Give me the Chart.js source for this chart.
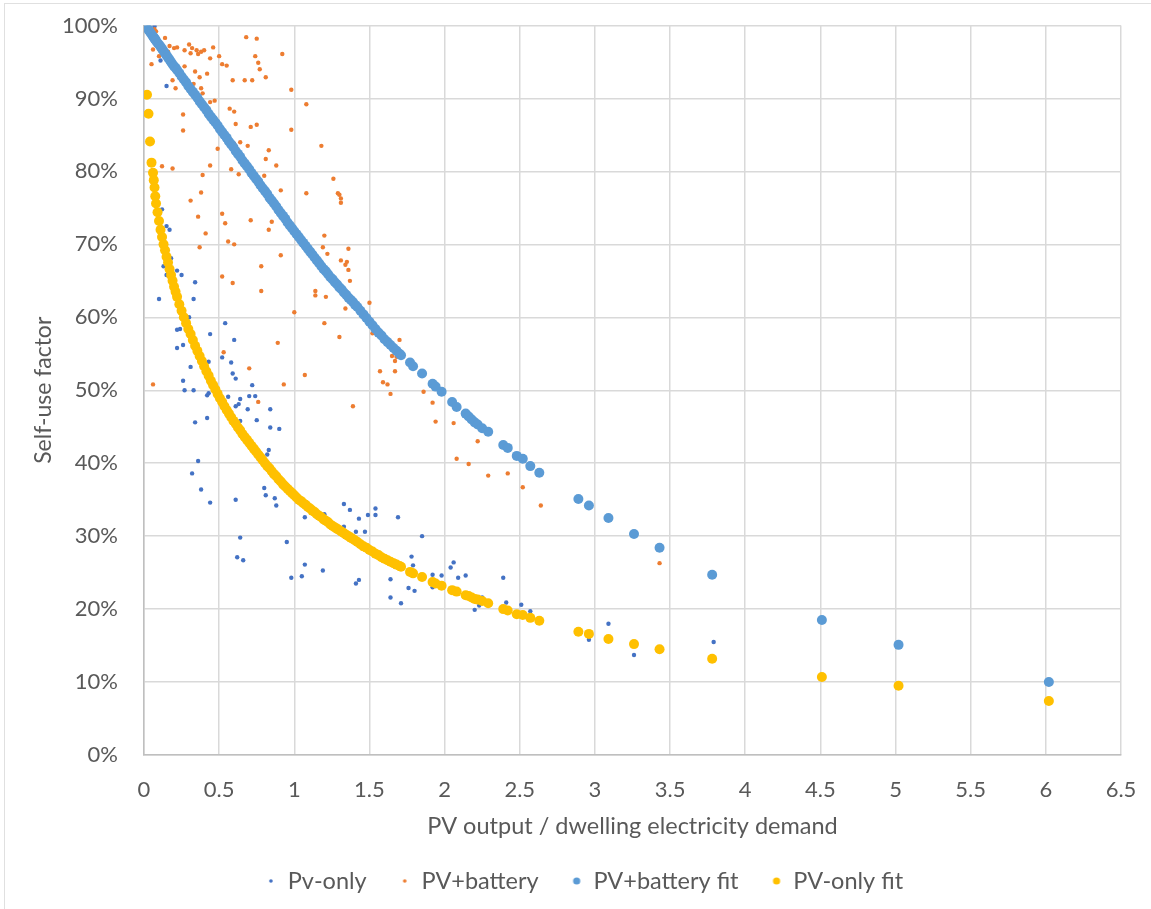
<!DOCTYPE html>
<html>
<head>
<meta charset="utf-8">
<title>Self-use factor</title>
<script src="https://cdn.jsdelivr.net/npm/chart.js@4.4.0/dist/chart.umd.min.js"></script>
<style>
  body { margin: 0; background: #ffffff; }
  #wrap { position: relative; width: 1151px; height: 909px; }
  #frame-left { position: absolute; left: 4px; top: 3px; width: 1px; height: 906px; background: #e0e0e0; }
  #frame-top { position: absolute; left: 4px; top: 3px; width: 1147px; height: 1px; background: #e0e0e0; }
  canvas { position: absolute; left: 0; top: 0; }
</style>
</head>
<body>
<div id="wrap">
  <canvas id="chart" width="1151" height="909"></canvas>
  <div id="frame-left"></div>
  <div id="frame-top"></div>
</div>
<script>
// x ticks: 0 .. 6.5 step 0.5, y ticks: 0% .. 100% step 10%
const xTicks = [0, 0.5, 1, 1.5, 2, 2.5, 3, 3.5, 4, 4.5, 5, 5.5, 6, 6.5];
const yTicks = [0, 10, 20, 30, 40, 50, 60, 70, 80, 90, 100];

const seriesNames = ["Pv-only", "PV+battery", "PV+battery fit", "PV-only fit"];

// Pv-only measured points (x = PV output / demand, y = self-use %)
const pvOnlyX = [
  0.07, 0.11, 0.15, 0.12, 0.15, 0.17, 0.18, 0.13, 0.15, 0.22, 0.25, 0.34, 0.10, 0.33, 0.30,
  0.22, 0.24, 0.54, 0.44, 0.60, 0.22, 0.26, 0.52, 0.43, 0.58, 0.31, 0.59, 0.61, 0.26, 0.72,
  0.27, 0.33, 0.42, 0.43, 0.56, 0.64, 0.63, 0.61, 0.70, 0.74, 0.69, 0.84, 0.42, 0.34, 0.75,
  0.64, 0.84, 0.90, 0.83, 0.82, 0.36, 0.32, 0.38, 0.80, 0.81, 0.87, 0.88, 0.44, 0.61, 1.07,
  0.64, 0.95, 0.62, 0.66, 0.98, 1.05, 1.07, 1.19, 1.41, 1.43, 1.41, 1.47, 1.64, 1.64, 1.71,
  1.76, 1.80, 1.78, 1.79, 1.85, 1.92, 1.92, 1.98, 2.04, 2.06, 2.09, 2.14, 2.20, 2.23, 2.25,
  2.39, 2.41, 2.51, 2.57, 1.33, 1.37, 1.43, 1.49, 1.54, 1.54, 1.69, 1.33, 1.20, 3.09, 2.96,
  3.79, 3.26
];
const pvOnlyY = [
  99.9, 95.2, 91.7, 74.8, 72.5, 72.0, 68.1, 67.0, 65.8, 66.4, 65.8, 64.8, 62.5, 62.5, 60.0,
  58.3, 58.4, 59.2, 57.7, 56.9, 55.8, 56.2, 54.5, 53.9, 53.8, 53.2, 52.3, 51.6, 51.3, 50.7,
  50.0, 50.0, 49.3, 49.6, 49.1, 48.8, 48.1, 47.8, 49.2, 49.2, 47.4, 47.4, 46.2, 45.6, 45.9,
  45.8, 44.9, 44.7, 41.8, 41.2, 40.3, 38.6, 36.4, 36.6, 35.6, 35.2, 34.2, 34.6, 35.0, 32.6,
  29.8, 29.2, 27.1, 26.7, 24.3, 24.5, 26.1, 25.3, 23.5, 24.0, 30.6, 30.6, 24.1, 21.6, 20.8,
  22.9, 22.5, 27.2, 26.0, 30.0, 24.7, 23.0, 24.6, 25.7, 26.4, 24.3, 24.6, 19.9, 20.5, 21.6,
  24.3, 20.9, 20.6, 19.7, 34.4, 33.6, 32.4, 32.9, 33.8, 32.9, 32.6, 31.3, 33.0, 18.0, 15.8,
  15.5, 13.7
];

// PV+battery measured points
const pvBatteryX = [
  0.07, 0.08, 0.14, 0.06, 0.17, 0.20, 0.22, 0.16, 0.10, 0.05, 0.27, 0.30, 0.32, 0.31, 0.35,
  0.36, 0.38, 0.40, 0.46, 0.44, 0.50, 0.52, 0.55, 0.68, 0.75, 0.74, 0.76, 0.77, 0.92, 0.27,
  0.34, 0.37, 0.42, 0.19, 0.21, 0.33, 0.38, 0.39, 0.59, 0.67, 0.72, 0.81, 0.98, 1.08, 0.44,
  0.47, 0.57, 0.60, 0.26, 0.61, 0.71, 0.75, 0.98, 0.26, 0.60, 0.64, 0.69, 0.49, 0.83, 1.18,
  0.81, 0.88, 0.44, 0.58, 0.12, 0.19, 0.63, 0.39, 0.80, 0.91, 1.08, 0.38, 0.31, 0.52, 0.36,
  0.71, 0.85, 0.54, 0.83, 0.41, 1.20, 0.56, 0.60, 0.37, 1.19, 1.22, 0.91, 1.26, 1.29, 1.30,
  1.31, 1.31, 1.36, 1.31, 1.35, 1.34, 1.36, 1.37, 0.78, 0.52, 0.59, 0.78, 1.14, 1.14, 1.21,
  1.00, 1.20, 0.89, 0.53, 0.70, 1.07, 0.06, 0.93, 0.76, 1.50, 1.34, 1.52, 1.70, 1.30, 1.65,
  1.67, 1.68, 1.57, 1.67, 1.59, 1.62, 1.64, 1.86, 1.39, 1.92, 1.94, 2.06, 2.22, 2.08, 2.16,
  2.29, 2.42, 2.52, 2.64, 3.43
];
const pvBatteryY = [
  99.5, 99.2, 98.3, 96.7, 97.2, 96.9, 97.0, 96.4, 95.8, 94.7, 96.6, 97.4, 96.9, 96.2, 96.6,
  96.1, 96.4, 96.6, 97.0, 95.5, 95.8, 94.7, 94.5, 98.4, 98.2, 95.8, 94.9, 94.0, 96.1, 94.4,
  93.7, 92.9, 93.4, 92.5, 91.4, 92.0, 91.4, 90.7, 92.5, 92.5, 92.5, 92.9, 91.2, 89.2, 89.5,
  89.7, 88.6, 88.2, 87.8, 86.5, 86.1, 86.4, 85.7, 85.6, 83.8, 84.0, 83.5, 83.1, 82.9, 83.5,
  81.7, 80.8, 80.8, 80.3, 80.7, 80.4, 79.6, 79.5, 79.4, 77.4, 77.0, 77.1, 76.0, 74.2, 73.8,
  73.3, 73.1, 72.9, 72.0, 71.5, 71.2, 70.4, 70.0, 69.6, 69.6, 68.7, 68.5, 79.0, 77.0, 76.8,
  76.3, 75.7, 69.4, 67.8, 67.6, 67.2, 66.5, 65.0, 67.0, 65.6, 64.7, 63.6, 63.6, 63.0, 62.8,
  60.7, 59.2, 56.5, 55.2, 53.0, 52.1, 50.8, 50.8, 48.4, 62.0, 61.2, 57.8, 56.9, 57.3, 54.7,
  54.0, 54.6, 52.6, 52.6, 51.1, 50.8, 49.5, 49.8, 47.8, 48.3, 45.7, 45.5, 43.0, 40.6, 39.9,
  38.3, 38.6, 36.7, 34.2, 26.3
];

const fitX = [
  0.02, 0.03, 0.04, 0.05, 0.06, 0.065, 0.07, 0.075, 0.08, 0.09, 0.10, 0.11, 0.12, 0.13, 0.14,
  0.15, 0.16, 0.17, 0.18, 0.19, 0.20, 0.21, 0.22, 0.235, 0.25, 0.265, 0.28, 0.295, 0.31, 0.325,
  0.34, 0.355, 0.37, 0.385, 0.40, 0.415, 0.43, 0.445, 0.46, 0.475, 0.49, 0.505, 0.52, 0.535, 0.55,
  0.565, 0.58, 0.595, 0.61, 0.625, 0.64, 0.655, 0.67, 0.685, 0.70, 0.715, 0.73, 0.745, 0.76, 0.775,
  0.79, 0.805, 0.82, 0.835, 0.85, 0.865, 0.88, 0.895, 0.91, 0.925, 0.94, 0.955, 0.97, 0.985, 1.00,
  1.015, 1.03, 1.045, 1.06, 1.075, 1.09, 1.105, 1.12, 1.135, 1.15, 1.165, 1.18, 1.195, 1.21, 1.225,
  1.24, 1.255, 1.27, 1.285, 1.30, 1.315, 1.33, 1.345, 1.36, 1.375, 1.39, 1.405, 1.42, 1.44, 1.46,
  1.48, 1.50, 1.52, 1.54, 1.56, 1.58, 1.60, 1.62, 1.64, 1.66, 1.68, 1.70, 1.71, 1.77, 1.79,
  1.85, 1.92, 1.94, 1.98, 2.05, 2.08, 2.14, 2.16, 2.18, 2.20, 2.22, 2.25, 2.29, 2.39, 2.42,
  2.48, 2.52, 2.57, 2.63, 2.89, 2.96, 3.09, 3.26, 3.43, 3.78, 4.51, 5.02, 6.02
];
const batteryFitY = [
  99.7, 99.4, 99.1, 98.8, 98.5, 98.4, 98.2, 98.1, 97.9, 97.6, 97.4, 97.1, 96.8, 96.5, 96.2,
  95.9, 95.6, 95.3, 95.0, 94.7, 94.4, 94.2, 93.9, 93.5, 93.0, 92.6, 92.2, 91.7, 91.3, 90.9,
  90.5, 90.1, 89.6, 89.2, 88.8, 88.4, 87.9, 87.5, 87.1, 86.7, 86.3, 85.8, 85.4, 85.0, 84.6,
  84.1, 83.7, 83.3, 82.8, 82.4, 82.0, 81.5, 81.1, 80.7, 80.3, 79.8, 79.4, 79.0, 78.6, 78.1,
  77.7, 77.3, 76.9, 76.4, 76.0, 75.6, 75.2, 74.7, 74.3, 73.9, 73.5, 73.0, 72.6, 72.2, 71.8,
  71.4, 71.0, 70.6, 70.2, 69.8, 69.4, 69.0, 68.6, 68.2, 67.8, 67.4, 67.0, 66.6, 66.3, 65.9,
  65.5, 65.2, 64.8, 64.5, 64.1, 63.8, 63.4, 63.1, 62.7, 62.4, 62.1, 61.7, 61.4, 60.9, 60.4,
  59.9, 59.4, 58.9, 58.4, 57.9, 57.5, 57.0, 56.6, 56.2, 55.8, 55.4, 55.0, 54.8, 53.8, 53.3,
  52.3, 50.9, 50.5, 49.8, 48.4, 47.7, 46.8, 46.4, 46.0, 45.6, 45.3, 44.8, 44.3, 42.5, 42.1,
  41.0, 40.6, 39.6, 38.7, 35.1, 34.2, 32.5, 30.3, 28.4, 24.7, 18.5, 15.1, 10.0
];
const pvFitY = [
  90.5, 87.9, 84.1, 81.2, 79.8, 78.8, 77.8, 76.6, 75.6, 74.4, 73.2, 72.0, 71.0, 70.0, 69.2,
  68.3, 67.5, 66.6, 65.8, 65.0, 64.2, 63.5, 62.8, 61.8, 60.9, 60.0, 59.2, 58.4, 57.7, 56.9,
  56.1, 55.4, 54.7, 54.0, 53.3, 52.6, 52.0, 51.3, 50.7, 50.1, 49.5, 48.9, 48.4, 47.8, 47.3,
  46.8, 46.3, 45.8, 45.4, 44.9, 44.5, 44.0, 43.6, 43.2, 42.8, 42.4, 42.0, 41.6, 41.2, 40.8,
  40.4, 40.0, 39.6, 39.3, 38.9, 38.5, 38.2, 37.8, 37.5, 37.1, 36.8, 36.5, 36.2, 35.9, 35.6,
  35.3, 35.0, 34.8, 34.5, 34.3, 34.0, 33.8, 33.5, 33.3, 33.0, 32.8, 32.6, 32.3, 32.1, 31.9,
  31.6, 31.4, 31.2, 31.0, 30.8, 30.6, 30.4, 30.2, 30.0, 29.8, 29.6, 29.4, 29.2, 28.9, 28.6,
  28.4, 28.1, 27.9, 27.6, 27.4, 27.1, 26.9, 26.7, 26.5, 26.3, 26.1, 25.9, 25.8, 25.1, 24.9,
  24.4, 23.7, 23.5, 23.2, 22.6, 22.4, 21.9, 21.8, 21.6, 21.4, 21.3, 21.1, 20.8, 20.0, 19.8,
  19.3, 19.2, 18.8, 18.4, 16.9, 16.6, 15.9, 15.2, 14.5, 13.2, 10.7, 9.5, 7.4
];

const seriesColors = ["#4472C4", "#ED7D31", "#5B9BD5", "#FFC000"];
const textColor = "#595959";
const fontFamily = "Lato, 'Open Sans', sans-serif";

function toPoints(xs, ys) {
  return xs.map((x, i) => ({ x: x, y: ys[i] }));
}

function legendDot(color, radius) {
  const c = document.createElement("canvas");
  c.width = 10;
  c.height = 10;
  const g = c.getContext("2d");
  g.fillStyle = color;
  g.beginPath();
  g.arc(5, 5, radius, 0, Math.PI * 2);
  g.fill();
  return c;
}

const legendDots = [
  legendDot(seriesColors[0], 1.8),
  legendDot(seriesColors[1], 1.8),
  legendDot(seriesColors[2], 3.6),
  legendDot(seriesColors[3], 3.6),
];

const datasets = [
  {
    label: seriesNames[0],
    data: toPoints(pvOnlyX, pvOnlyY),
    backgroundColor: seriesColors[0],
    borderWidth: 0,
    pointRadius: 2.2,
    order: 4,
  },
  {
    label: seriesNames[1],
    data: toPoints(pvBatteryX, pvBatteryY),
    backgroundColor: seriesColors[1],
    borderWidth: 0,
    pointRadius: 2.2,
    order: 3,
  },
  {
    label: seriesNames[2],
    data: toPoints(fitX, batteryFitY),
    backgroundColor: seriesColors[2],
    borderWidth: 0,
    pointRadius: 5,
    order: 2,
  },
  {
    label: seriesNames[3],
    data: toPoints(fitX, pvFitY),
    backgroundColor: seriesColors[3],
    borderWidth: 0,
    pointRadius: 5,
    order: 1,
  },
];

new Chart(document.getElementById("chart"), {
  type: "scatter",
  data: { datasets },
  options: {
    responsive: false,
    animation: false,
    layout: { padding: { left: 18, right: 0, top: 25.5, bottom: 6.25 } },
    plugins: {
      tooltip: { enabled: false },
      legend: {
        position: "bottom",
        align: "center",
        labels: {
          usePointStyle: true,
          boxWidth: 10,
          padding: 33,
          color: textColor,
          font: { family: fontFamily, size: 23.5 },
          generateLabels: (chart) => chart.data.datasets.map((ds, i) => ({
            text: ds.label,
            pointStyle: legendDots[i],
            fillStyle: ds.backgroundColor,
            strokeStyle: ds.backgroundColor,
            lineWidth: 0,
            hidden: false,
            datasetIndex: i,
            fontColor: textColor,
          })),
        },
      },
    },
    scales: {
      x: {
        type: "linear",
        min: xTicks[0],
        max: xTicks[xTicks.length - 1],
        afterBuildTicks: (scale) => { scale.ticks = xTicks.map((v) => ({ value: v })); },
        afterFit: (scale) => { scale.height = 81.25; scale.paddingRight = 30; },
        ticks: {
          padding: 22,
          color: textColor,
          font: { family: fontFamily, size: 22 },
          maxRotation: 0,
          callback: (v) => String(v),
        },
        grid: { color: "#D9D9D9", lineWidth: 1.5, drawTicks: false },
        border: { color: "#BFBFBF", width: 1.5 },
        title: {
          display: true,
          text: "PV output / dwelling electricity demand",
          color: textColor,
          font: { family: fontFamily, size: 23.5 },
          padding: { top: 0, bottom: -4 },
        },
      },
      y: {
        type: "linear",
        min: yTicks[0],
        max: yTicks[yTicks.length - 1],
        afterBuildTicks: (scale) => { scale.ticks = yTicks.map((v) => ({ value: v })); },
        afterFit: (scale) => { scale.width = 126; scale.paddingTop = 12; scale.paddingBottom = 12; },
        ticks: {
          padding: 26,
          color: textColor,
          font: { family: fontFamily, size: 22 },
          callback: (v) => v + "%",
        },
        grid: { color: "#D9D9D9", lineWidth: 1.5, drawTicks: false },
        border: { color: "#BFBFBF", width: 1.5 },
        title: {
          display: true,
          text: "Self-use factor",
          color: textColor,
          font: { family: fontFamily, size: 23 },
          padding: { top: 12, bottom: 0 },
        },
      },
    },
  },
});
</script>
</body>
</html>
